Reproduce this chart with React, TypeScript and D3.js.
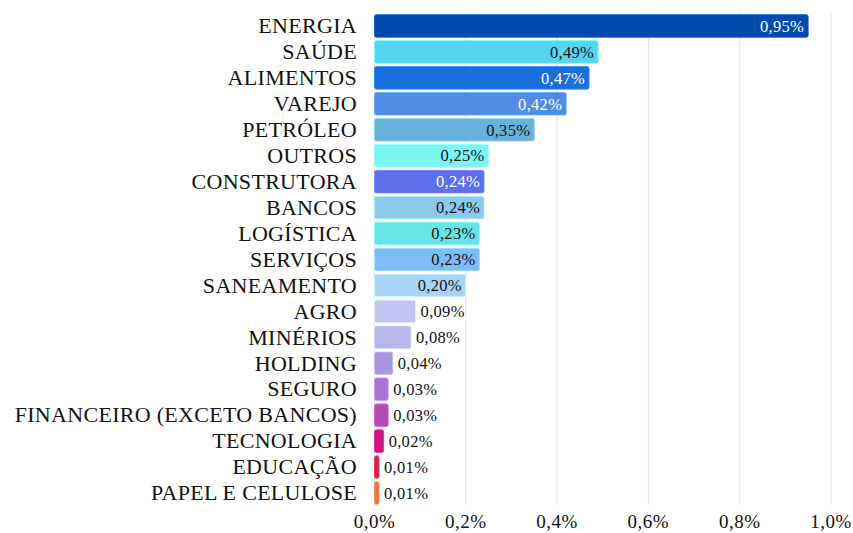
import { useEffect, useRef } from 'react';
import * as d3 from 'd3';

const categories = [
  'ENERGIA', 'SAÚDE', 'ALIMENTOS', 'VAREJO', 'PETRÓLEO', 'OUTROS', 'CONSTRUTORA',
  'BANCOS', 'LOGÍSTICA', 'SERVIÇOS', 'SANEAMENTO', 'AGRO', 'MINÉRIOS', 'HOLDING',
  'SEGURO', 'FINANCEIRO (EXCETO BANCOS)', 'TECNOLOGIA', 'EDUCAÇÃO', 'PAPEL E CELULOSE',
];
const values = [0.95, 0.49, 0.47, 0.42, 0.35, 0.25, 0.24, 0.24, 0.23, 0.23, 0.20, 0.09, 0.08, 0.04, 0.03, 0.03, 0.02, 0.01, 0.01];
const colors = [
  '#004aad', '#54d6f0', '#1a6fd8', '#528de3', '#6ab1d9', '#7af5f5', '#5c6fe6',
  '#8ec8eb', '#67e3e6', '#7ebdf7', '#a8d4f6', '#c2c2f0', '#b6b6e8', '#a997e0',
  '#a873d1', '#b04cb0', '#cc1380', '#d8204e', '#ee7240',
];
// dark bars get white value labels
const whiteLabel = ['ENERGIA', 'ALIMENTOS', 'VAREJO', 'CONSTRUTORA'];
const ticks = [0, 0.2, 0.4, 0.6, 0.8, 1.0];

const fmt = (v: number, digits: number) => v.toFixed(digits).replace('.', ',') + '%';

const App = () => {
  const svgRef = useRef<SVGSVGElement | null>(null);

  useEffect(() => {
    const width = 853;
    const height = 533;
    const svg = d3.select(svgRef.current);
    svg.selectAll('*').remove();

    const data = categories.map((c, i) => ({ cat: c, value: values[i], color: colors[i] }));

    const x = d3.scaleLinear().domain([0, 1]).range([374.5, 831]);
    const y = d3.scaleBand()
      .domain(categories)
      .range([13, 506])
      .paddingInner(0.13)
      .paddingOuter(0.065);

    // grid
    svg.append('g')
      .selectAll('line')
      .data(ticks)
      .enter().append('line')
      .attr('x1', d => x(d))
      .attr('x2', d => x(d))
      .attr('y1', 13)
      .attr('y2', 505)
      .attr('stroke', '#e3e3e3')
      .attr('stroke-width', 1);

    // bars
    svg.append('g')
      .selectAll('rect')
      .data(data)
      .enter().append('rect')
      .attr('x', x(0))
      .attr('y', d => y(d.cat)!)
      .attr('width', d => x(d.value) - x(0))
      .attr('height', y.bandwidth())
      .attr('rx', 2)
      .attr('fill', d => d.color)
      .attr('stroke', d => d3.color(d.color)!.brighter(0.6).formatHex())
      .attr('stroke-width', 0.8);

    // value labels
    svg.append('g')
      .selectAll('text')
      .data(data)
      .enter().append('text')
      .attr('x', d => d.value >= 0.15 ? x(d.value) - 4 : x(d.value) + 5)
      .attr('y', d => y(d.cat)! + y.bandwidth() / 2)
      .attr('dy', '0.35em')
      .attr('text-anchor', d => d.value >= 0.15 ? 'end' : 'start')
      .style('font-family', '"Liberation Serif", serif')
      .style('font-size', '16.5px')
      .style('letter-spacing', '0.3px')
      .style('fill', d => whiteLabel.includes(d.cat) ? '#ffffff' : '#111111')
      .text(d => fmt(d.value, 2));

    // category labels
    svg.append('g')
      .selectAll('text')
      .data(data)
      .enter().append('text')
      .attr('x', 357)
      .attr('y', d => y(d.cat)! + y.bandwidth() / 2)
      .attr('dy', '0.33em')
      .attr('text-anchor', 'end')
      .style('font-family', '"Liberation Serif", serif')
      .style('font-size', '22px')
      .style('letter-spacing', '0.3px')
      .style('fill', '#111111')
      .text(d => d.cat);

    // x tick labels
    svg.append('g')
      .selectAll('text')
      .data(ticks)
      .enter().append('text')
      .attr('x', d => x(d))
      .attr('y', 521)
      .attr('dy', '0.35em')
      .attr('text-anchor', 'middle')
      .style('font-family', '"Liberation Serif", serif')
      .style('font-size', '19px')
      .style('letter-spacing', '0.5px')
      .style('fill', '#111111')
      .text(d => fmt(d, 1));

    svg.attr('width', width).attr('height', height);
  }, []);

  return (
    <svg
      ref={svgRef}
      width={853}
      height={533}
      style={{ position: 'absolute', left: 0, top: 0, background: '#fff' }}
    />
  );
};

export default App;
